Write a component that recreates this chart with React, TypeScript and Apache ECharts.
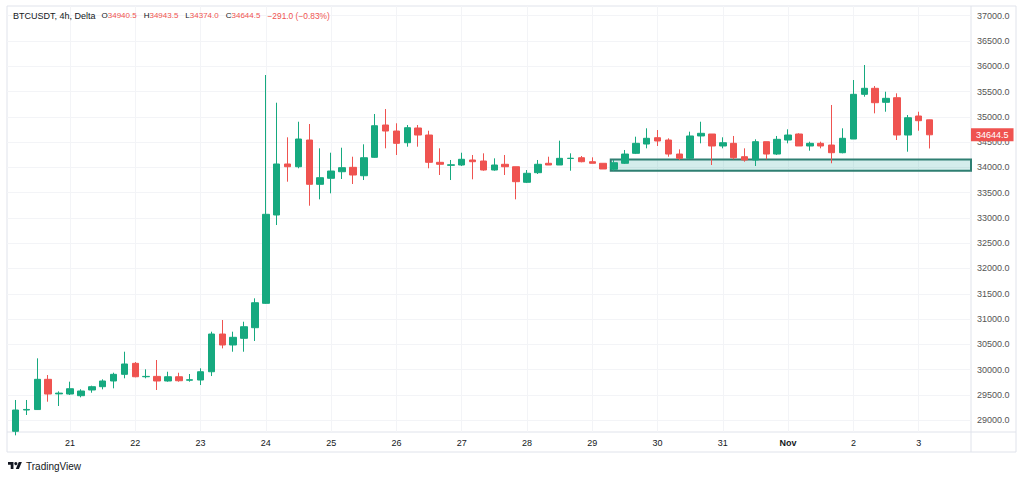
import React, { useEffect, useRef } from "react";
import * as echarts from "echarts";

// ---- data (4h bars, bar index 0 = Oct 21 00:00) ----
const firstBar = -5;
const opens = [
  28780, 29201, 29210, 29808, 29520, 29517, 29484, 29597, 29662, 29775,
  29907, 30124, 29859, 29866, 29775, 29859, 29790, 29794, 29958, 30704,
  30487, 30619, 30829, 31311, 33058, 34067, 34013, 34541, 33665, 33784,
  33914, 34001, 33835, 34199, 34838, 34719, 34488, 34779, 34640, 34100,
  34040, 34047, 34146, 34126, 33948, 34061, 34013, 33705, 33895, 34081,
  34047, 34175, 34191, 34112, 34081, 33962, 34081, 34278, 34462, 34587,
  34541, 34264, 34179, 34621, 34660, 34423, 34476, 34211, 34146, 34508,
  34264, 34541, 34660, 34423, 34476, 34442, 34290, 34561, 35445, 35564,
  35287, 35378, 34640, 35016, 34940.5,
];
const closes = [
  29201, 29212, 29808, 29517, 29535, 29622, 29577, 29662, 29775, 29907,
  30111, 29859, 29866, 29775, 29859, 29780, 29800, 29958, 30704, 30487,
  30639, 30848, 31323, 33072, 34067, 34013, 34561, 33665, 33796, 33928,
  33994, 33849, 34191, 34824, 34719, 34476, 34785, 34640, 34100, 34061,
  34052, 34160, 34112, 33948, 34047, 34013, 33717, 33883, 34061, 34047,
  34179, 34181, 34112, 34081, 33968, 34092, 34264, 34476, 34575, 34522,
  34264, 34179, 34621, 34674, 34423, 34488, 34191, 34146, 34508, 34264,
  34555, 34640, 34423, 34476, 34423, 34290, 34575, 35445, 35564, 35279,
  35366, 34640, 34982, 34923, 34644.5,
];
const lows = [
  28700, 29102, 29201, 29365, 29280, 29498, 29452, 29543, 29610, 29630,
  29828, 29848, 29828, 29597, 29761, 29761, 29761, 29695, 29873, 30420,
  30354, 30354, 30566, 31300, 32860, 33717, 33982, 33242, 33368, 33487,
  33770, 33671, 33750, 34190, 34377, 34245, 34409, 34409, 33982, 33849,
  33750, 34027, 33764, 33934, 33934, 33849, 33368, 33690, 33869, 34047,
  34047, 33934, 34100, 34081, 33968, 33934, 34067, 34264, 34377, 34423,
  34211, 34146, 34166, 34476, 34047, 34377, 34160, 34112, 34027, 34160,
  34245, 34476, 34423, 34330, 34377, 34081, 34278, 34561, 35398, 35069,
  35101, 34541, 34310, 34725, 34374.0,
];
const highs = [
  29399, 29399, 30223, 29893, 29570, 29761, 29611, 29682, 29808, 29939,
  30354, 30150, 30006, 30190, 29958, 29938, 29913, 30026, 30750, 30981,
  30750, 30947, 31410, 35827, 35279, 34595, 34903, 34858, 34377, 34290,
  34389, 34211, 34456, 35056, 35154, 34872, 34838, 34838, 34725, 34377,
  34146, 34290, 34245, 34278, 34179, 34245, 34013, 33948, 34146, 34211,
  34528, 34278, 34225, 34199, 34081, 34146, 34344, 34607, 34773, 34739,
  34575, 34357, 34706, 34903, 34660, 34595, 34621, 34377, 34555, 34508,
  34621, 34753, 34674, 34508, 34508, 35234, 34773, 35728, 36025, 35609,
  35497, 35465, 35036, 35101, 34943.5,
];
const dayTickBars = [0, 6, 12, 18, 24, 30, 36, 42, 48, 54, 60, 66, 72, 78];
const dayLabels = ["21", "22", "23", "24", "25", "26", "27", "28", "29", "30", "31", "Nov", "2", "3"];
const monthLabels = ["Nov"];
const priceTicks = [
  29000, 29500, 30000, 30500, 31000, 31500, 32000, 32500, 33000, 33500,
  34000, 34500, 35000, 35500, 36000, 36500, 37000,
];
const zoneTop = 34155;
const zoneBottom = 33935;
const zoneStartBar = 49.7;
const headerSymbol = "BTCUSDT, 4h, Delta";
const headerO = "34940.5";
const headerH = "34943.5";
const headerL = "34374.0";
const headerC = "34644.5";
const headerChange = "\u2212291.0 (\u22120.83%)";
const lastClose = 34644.5;

const X_MIN = -5.79;
const X_MAX = 82.81;
const Y_MIN = 28766;
const Y_MAX = 37192;

const UP = "#16a97f";
const DOWN = "#ef5350";
const FONT = "'Liberation Sans', Arial, sans-serif";
const FRAME = "#e0e3eb";
const GRIDLINE = "#f3f4f7";

export default function App() {
  const ref = useRef<HTMLDivElement>(null);
  useEffect(() => {
    document.body.style.margin = "0";
    if (!ref.current) return;
    const chart = echarts.init(ref.current, undefined, { renderer: "svg" });
    const data = opens.map((o, k) => [firstBar + k, o, closes[k], lows[k], highs[k]]);
    const labelOf = (v: number) => {
      const idx = dayTickBars.indexOf(Math.round(v));
      if (idx < 0) return "";
      const t = dayLabels[idx];
      return monthLabels.includes(t) ? "{b|" + t + "}" : t;
    };
    chart.setOption({
      animation: false,
      backgroundColor: "#ffffff",
      textStyle: { fontFamily: FONT },
      title: {
        left: 13,
        top: 11,
        padding: 0,
        text:
          "{s|" + headerSymbol + "}{k0|O}{v|" + headerO + "}{k|H}{v|" + headerH +
          "}{k|L}{v|" + headerL + "}{k|C}{v|" + headerC + "}{g|" + headerChange + "}",
        textStyle: {
          fontSize: 9,
          fontWeight: "normal",
          rich: {
            s: { fontSize: 9, color: "#131722", fontFamily: FONT },
            k0: { fontSize: 8, color: "#131722", fontFamily: FONT, padding: [0, 0, 0, 6] },
            k: { fontSize: 8, color: "#131722", fontFamily: FONT, padding: [0, 0, 0, 7] },
            v: { fontSize: 8, color: DOWN, fontFamily: FONT },
            g: { fontSize: 8.4, color: DOWN, fontFamily: FONT, padding: [0, 0, 0, 7] },
          },
        },
      },
      grid: { left: 7, right: 53, top: 6, bottom: 48 },
      xAxis: {
        type: "value",
        min: X_MIN,
        max: X_MAX,
        axisLine: { show: false },
        axisTick: { show: false, customValues: dayTickBars },
        splitLine: { show: true, lineStyle: { color: GRIDLINE, width: 1 } },
        axisLabel: {
          customValues: dayTickBars,
          formatter: (v: number) => labelOf(v),
          color: "#131722",
          fontSize: 9,
          fontFamily: FONT,
          margin: 6,
          rich: { b: { fontWeight: "bold", fontSize: 9, color: "#131722", fontFamily: FONT } },
        },
      },
      yAxis: {
        type: "value",
        position: "right",
        min: Y_MIN,
        max: Y_MAX,
        scale: true,
        axisLine: { show: false },
        axisTick: { show: false, customValues: priceTicks },
        splitLine: { show: true, lineStyle: { color: GRIDLINE, width: 1 } },
        axisLabel: {
          customValues: priceTicks,
          formatter: (v: number) => v.toFixed(1),
          color: "#555",
          fontSize: 9,
          fontFamily: FONT,
          margin: 6,
        },
      },
      series: [
        {
          type: "candlestick",
          data,
          barWidth: 7,
          clip: true,
          itemStyle: {
            color: UP,
            color0: DOWN,
            borderColor: UP,
            borderColor0: DOWN,
            borderWidth: 1,
          },
          markArea: {
            silent: true,
            itemStyle: {
              color: "rgba(38,166,154,0.2)",
              borderColor: "#2f7f72",
              borderWidth: 2,
            },
            data: [[{ xAxis: zoneStartBar, yAxis: zoneTop }, { xAxis: X_MAX, yAxis: zoneBottom }]],
          },
        },
        {
          type: "line",
          data: [[X_MAX, lastClose]],
          showSymbol: false,
          symbol: "none",
          clip: false,
          z: 10,
          lineStyle: { color: "rgba(0,0,0,0)", width: 0 },
          markLine: {
            silent: true,
            symbol: "none",
            z: 10,
            lineStyle: { color: "rgba(0,0,0,0)", width: 0, opacity: 1 },
            label: {
              show: true,
              position: "end",
              distance: 0,
              formatter: headerC,
              color: "#ffffff",
              opacity: 1,
              backgroundColor: DOWN,
              fontSize: 9,
              fontFamily: FONT,
              padding: [2, 5, 2, 5],
            },
            data: [{ yAxis: lastClose }],
          },
        },
      ],
      graphic: [
        {
          type: "rect",
          shape: { x: 7, y: 6, width: 1009, height: 446 },
          style: { fill: "none", stroke: FRAME, lineWidth: 1 },
          silent: true,
        },
        {
          type: "line",
          shape: { x1: 7, y1: 432, x2: 1016, y2: 432 },
          style: { stroke: FRAME, lineWidth: 1 },
          silent: true,
        },
        {
          type: "line",
          shape: { x1: 971, y1: 6, x2: 971, y2: 452 },
          style: { stroke: FRAME, lineWidth: 1 },
          silent: true,
        },
        {
          type: "group",
          x: 8,
          y: 460.5,
          scaleX: 0.39,
          scaleY: 0.39,
          silent: true,
          children: [
            {
              type: "polygon",
              shape: { points: [[0, 4], [14, 4], [14, 22], [7, 22], [7, 11], [0, 11]] },
              style: { fill: "#131722" },
            },
            { type: "circle", shape: { cx: 20, cy: 8, r: 4 }, style: { fill: "#131722" } },
            {
              type: "polygon",
              shape: { points: [[20, 22], [27.5, 4], [35.5, 4], [28, 22]] },
              style: { fill: "#131722" },
            },
          ],
        },
        {
          type: "text",
          x: 26,
          y: 466,
          style: {
            text: "TradingView",
            fill: "#131722",
            fontSize: 10,
            fontFamily: FONT,
            verticalAlign: "middle",
          },
          silent: true,
        },
      ],
    });
    return () => chart.dispose();
  }, []);
  return <div ref={ref} style={{ width: 1024, height: 480 }} />;
}
